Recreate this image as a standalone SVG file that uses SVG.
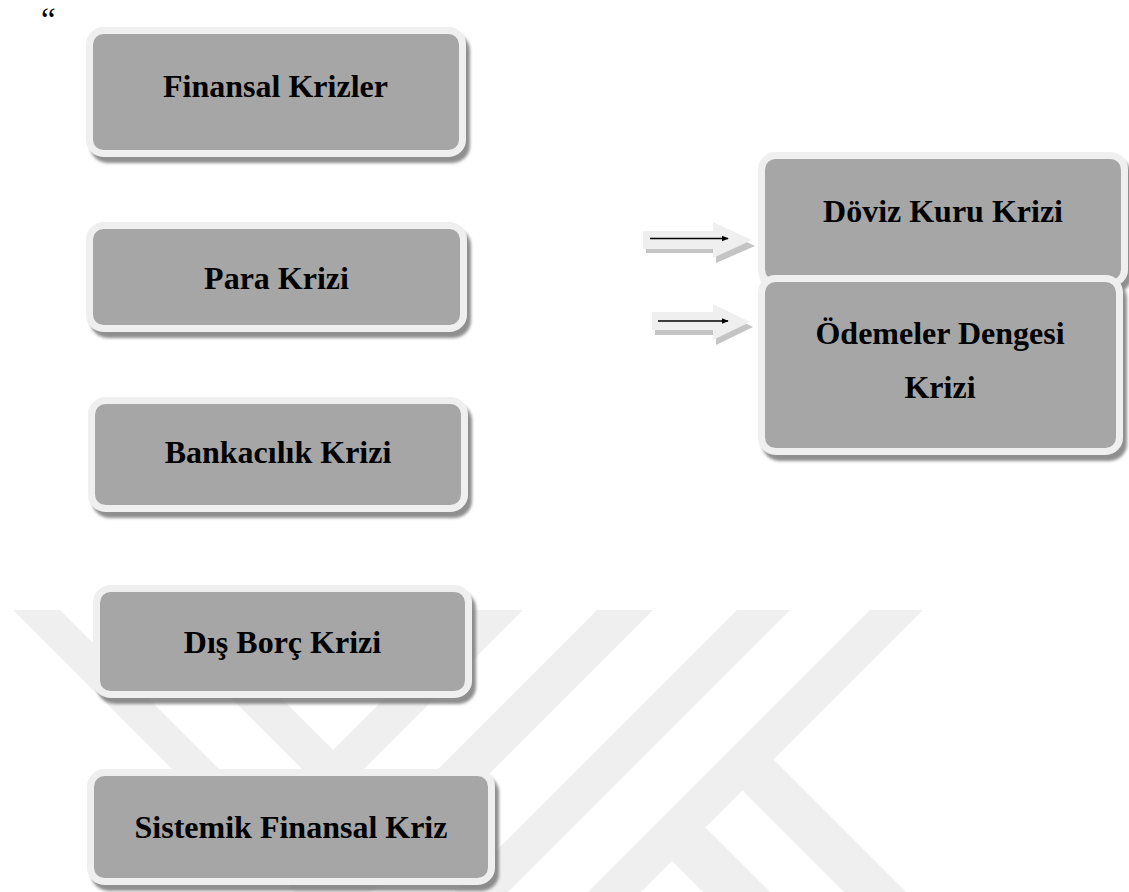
<svg xmlns="http://www.w3.org/2000/svg" width="1129" height="892" viewBox="0 0 1129 892">
  <defs>
    <filter id="sh" x="-10%" y="-10%" width="125%" height="135%">
      <feDropShadow dx="4" dy="6" stdDeviation="1.6" flood-color="#7a7a7a" flood-opacity="0.85"/>
    </filter>
    <marker id="ah" viewBox="0 0 10 10" refX="9" refY="5" markerWidth="7" markerHeight="7" markerUnits="userSpaceOnUse" orient="auto">
      <path d="M0,1 L10,5 L0,9 z" fill="#000"/>
    </marker>
    <style>
      .box { fill: #a6a6a6; stroke: #efefef; stroke-width: 7; filter: url(#sh); }
      .lbl { font-family: "Liberation Serif", "Times New Roman", serif; font-weight: bold; font-size: 32px; fill: #000; text-anchor: middle; }
      .wm { fill: #efefef; }
      .barrow { fill: #efefef; }
      .barrow-sh { fill: #c4c4c4; }
      .line { stroke: #000; stroke-width: 1.5; fill: none; marker-end: url(#ah); }
    </style>
  </defs>

  <rect width="1129" height="892" fill="#ffffff"/>

  <!-- background watermark -->
  <g id="watermark">
    <polygon class="wm" points="13,610 60,610 342,892 295,892"/>
    <polygon class="wm" points="143,610 193,610 333,750 473,610 523,610 333,800"/>
    <polygon class="wm" points="597,610 653,610 371,892 315,892"/>
    <polygon class="wm" points="737,610 790,610 508,892 455,892"/>
    <polygon class="wm" points="870,610 923,610 641,892 588,892"/>
    <polygon class="wm" points="772,758 906,892 844,892 735,783"/>
    <polygon class="wm" points="705,827 770,892 703,892 667,856"/>
  </g>

  <text x="41" y="31" font-family="Liberation Serif, serif" font-size="33" fill="#000">“</text>

  <g id="connectors">
    <g id="arrow1">
      <polygon class="barrow-sh" points="646,236 716,236 716,227 755,246 716,263 716,253 646,253"/>
      <polygon class="barrow" points="643,231 713,231 713,222 752,240 713,258 713,249 643,249"/>
      <line class="line" x1="650" y1="238.5" x2="728" y2="238.5"/>
    </g>
    <g id="arrow2">
      <polygon class="barrow-sh" points="655,317 716,317 716,309 753,327 716,345 716,335 655,335"/>
      <polygon class="barrow" points="652,312 713,312 713,304 750,322 713,340 713,330 652,330"/>
      <line class="line" x1="658" y1="321" x2="728" y2="321"/>
    </g>
  </g>

  <g id="node-finansal-krizler">
    <rect class="box" x="89.5" y="30.5" width="373" height="123" rx="14"/>
    <text class="lbl" x="275.5" y="97">Finansal Krizler</text>
  </g>
  <g id="node-para-krizi">
    <rect class="box" x="89.5" y="225.5" width="374" height="103" rx="14"/>
    <text class="lbl" x="276.5" y="289">Para Krizi</text>
  </g>
  <g id="node-bankacilik-krizi">
    <rect class="box" x="91.5" y="400.5" width="373" height="108" rx="14"/>
    <text class="lbl" x="278" y="463">Bankacılık Krizi</text>
  </g>
  <g id="node-dis-borc-krizi">
    <rect class="box" x="96.5" y="588.5" width="372" height="106" rx="14"/>
    <text class="lbl" x="282.5" y="653">Dış Borç Krizi</text>
  </g>
  <g id="node-sistemik-finansal-kriz">
    <rect class="box" x="90.5" y="772.5" width="401" height="109" rx="14"/>
    <text class="lbl" x="291" y="838">Sistemik Finansal Kriz</text>
  </g>
  <g id="node-doviz-kuru-krizi">
    <rect class="box" x="761.5" y="155.5" width="363" height="128" rx="14"/>
    <text class="lbl" x="943" y="222">Döviz Kuru Krizi</text>
  </g>
  <g id="node-odemeler-dengesi-krizi">
    <rect class="box" x="761.5" y="278.5" width="358" height="173" rx="14"/>
    <text class="lbl" x="940" y="344">Ödemeler Dengesi</text>
    <text class="lbl" x="940" y="398">Krizi</text>
  </g>
</svg>
